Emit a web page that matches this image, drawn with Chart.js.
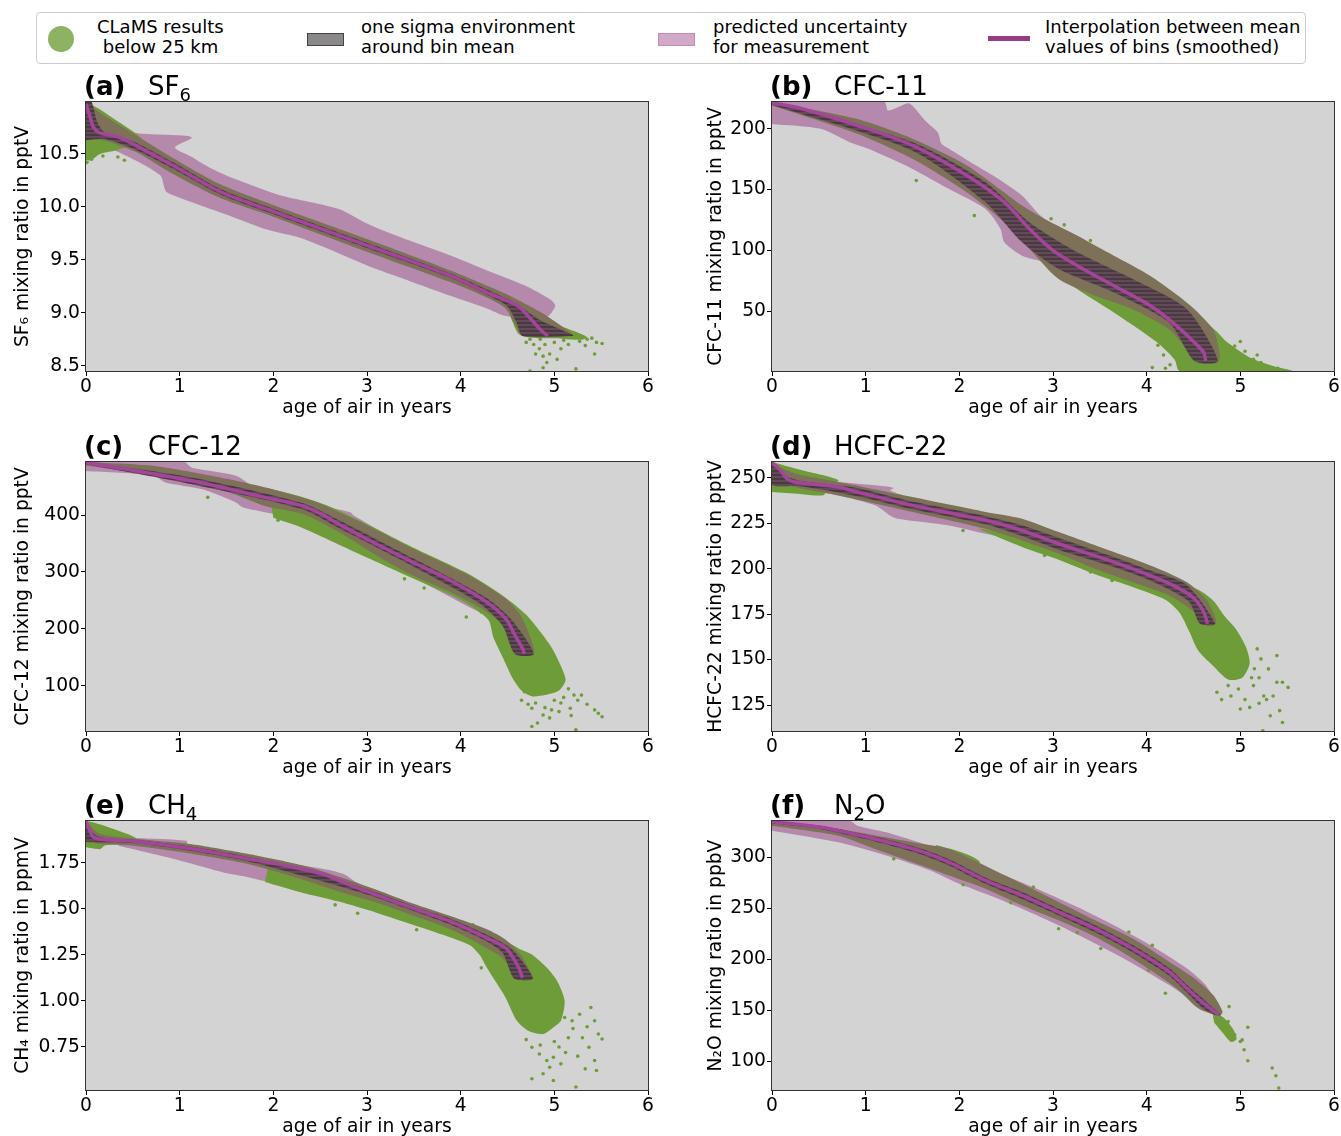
<!DOCTYPE html>
<html>
<head>
<meta charset="utf-8">
<script src="https://cdn.jsdelivr.net/npm/chart.js@4.4.1/dist/chart.umd.min.js"></script>
<style>
  body { margin: 0; background: #fff; font-family: "DejaVu Sans", sans-serif; }
  #fig { position: relative; width: 1341px; height: 1136px; overflow: hidden; }
  .legend { position: absolute; left: 36px; top: 12px; width: 1268px; height: 50px; border: 1px solid #cccccc; border-radius: 4px; background: #fff; }
  .lg-text { position: absolute; font-size: 18px; line-height: 20px; color: #000; white-space: pre; }
  .ptitle { position: absolute; font-size: 26px; color: #000; white-space: nowrap; z-index: 2; }
  .ptitle sub { font-size: 18px; vertical-align: -6px; line-height: 0; }
  canvas { position: absolute; }
</style>
</head>
<body>
<div id="fig">
  <div class="legend">
    <div style="position:absolute;left:11px;top:13px;width:26px;height:26px;border-radius:50%;background:#8db262;"></div>
    <div class="lg-text" style="left:60px;top:4px;">CLaMS results
 below 25 km</div>
    <div style="position:absolute;left:270px;top:20px;width:35px;height:11px;background:#8a8888;border:1px solid #444;"></div>
    <div class="lg-text" style="left:324px;top:4px;">one sigma environment
around bin mean</div>
    <div style="position:absolute;left:621px;top:20px;width:35px;height:11px;background:#d2a9c8;border:1px solid #c58bba;"></div>
    <div class="lg-text" style="left:676px;top:4px;">predicted uncertainty
for measurement</div>
    <div style="position:absolute;left:951px;top:23px;width:42px;height:5px;background:#963c82;"></div>
    <div class="lg-text" style="left:1008px;top:4px;">Interpolation between mean
values of bins (smoothed)</div>
  </div>
</div>
<script>
// ---- axis ticks ----
const ageTicks = [0, 1, 2, 3, 4, 5, 6];
const sf6Ticks = [8.5, 9.0, 9.5, 10.0, 10.5];
const cfc11Ticks = [50, 100, 150, 200];
const cfc12Ticks = [100, 200, 300, 400];
const hcfc22Ticks = [125, 150, 175, 200, 225, 250];
const ch4Ticks = [0.75, 1.00, 1.25, 1.50, 1.75];
const n2oTicks = [100, 150, 200, 250, 300];

// ---- (a) SF6 ----
const sf6Mean = [[0,10.97],[0.04,10.86],[0.08,10.75],[0.14,10.70],[0.34,10.66],[0.53,10.58],[0.93,10.39],[1.44,10.14],[1.99,9.96],[3.02,9.63],[3.89,9.35],[4.28,9.19],[4.60,9.07],[4.72,8.97],[4.84,8.85],[4.93,8.78]];
const sf6SigmaUp = [[0,10.99],[0.18,10.87],[0.49,10.70],[0.93,10.46],[1.44,10.21],[1.99,10.02],[3.02,9.69],[3.89,9.40],[4.48,9.18],[4.70,9.08],[4.92,8.97],[5.19,8.80]];
const sf6SigmaLo = [[0,10.63],[0.18,10.63],[0.53,10.52],[0.93,10.31],[1.44,10.08],[1.99,9.91],[3.02,9.57],[3.89,9.29],[4.24,9.16],[4.48,9.04],[4.60,8.86],[4.66,8.78],[5.19,8.78]];
const sf6CoreUp = [[0,10.99],[0.06,10.99],[0.12,10.80],[0.2,10.70],[0.5,10.62],[0.93,10.42],[1.44,10.165],[1.99,9.985],[3.02,9.655],[3.89,9.37],[4.5,9.13],[4.6,9.08],[4.85,8.93],[5.2,8.79]];
const sf6CoreLo = [[0,10.63],[0.2,10.64],[0.5,10.55],[0.93,10.36],[1.44,10.115],[1.99,9.935],[3.02,9.605],[3.89,9.33],[4.3,9.16],[4.5,9.06],[4.6,8.9],[4.66,8.78],[5.2,8.78]];
const sf6UncUp = [[0,10.8],[0.49,10.70],[1.09,10.67],[1.13,10.65],[0.95,10.56],[1.13,10.47],[1.32,10.37],[1.60,10.26],[2.07,10.11],[2.70,9.98],[2.98,9.85],[3.22,9.76],[3.49,9.67],[3.89,9.54],[4.28,9.40],[4.68,9.26],[4.95,9.13],[5.01,9.07],[4.97,9.00],[4.92,8.96]];
const sf6UncLo = [[0,10.62],[0.34,10.52],[0.79,10.30],[0.85,10.15],[0.93,10.11],[1.52,9.92],[1.91,9.79],[2.31,9.70],[3.02,9.44],[3.30,9.35],[3.89,9.16],[4.28,9.04],[4.48,8.97],[4.85,8.96]];
const sf6CloudA = [[0,10.99],[0.15,10.92],[0.35,10.80],[0.55,10.68],[0.6,10.62],[0.3,10.53],[0.15,10.5],[0.05,10.44],[0,10.44]];
const sf6CloudB = [[4.5,9.04],[4.62,9.02],[4.9,8.93],[5.2,8.83],[5.35,8.77],[5.3,8.745],[5.0,8.76],[4.75,8.765],[4.62,8.8],[4.55,8.92]];
const sf6Dots = [[4.74,8.75],[4.78,8.70],[4.84,8.66],[4.80,8.61],[4.88,8.59],[4.95,8.61],[4.92,8.53],[4.88,8.48],[5.07,8.66],[5.15,8.70],[5.23,8.78],[5.35,8.75],[5.45,8.72],[5.51,8.71],[5.43,8.61],[4.74,8.45],[5.23,8.47],[5.33,8.69],[5.03,8.56],[0.02,10.5],[0.06,10.45],[0.12,10.52],[0.18,10.48],[0.34,10.47],[0.41,10.44],[0.01,10.42],[4.7,8.72],[4.9,8.7],[5.0,8.72],[5.1,8.74],[4.85,8.75],[5.4,8.76],[5.27,8.73],[4.6,8.88],[4.55,8.97]];

// ---- (b) CFC-11 ----
const cfc11Mean = [[0,221.4],[0.32,216.5],[0.91,202.7],[1.50,186.3],[2.08,161.5],[2.48,139.6],[2.75,117.6],[2.98,101.1],[3.26,87.4],[3.65,70.9],[4.04,54.4],[4.32,37.9],[4.51,24.2],[4.61,15.9],[4.63,9.1]];
const cfc11SigmaUp = [[0,222],[0.91,208],[1.5,191.8],[2.08,169.8],[2.67,136.8],[2.91,125.8],[3.26,112],[3.65,95.6],[4.04,79],[4.43,57],[4.71,35],[4.77,18.7],[4.77,9.1]];
const cfc11SigmaLo = [[0,219.2],[0.91,195.9],[1.5,175.3],[2.08,147.8],[2.48,123.1],[2.75,101.1],[3.06,76.4],[3.45,62.6],[3.85,51.6],[4.24,35],[4.43,18.7],[4.51,9.1]];
const cfc11CoreUp = [[0,222],[1.5,189],[2.28,156],[2.75,123],[3.26,98.4],[3.85,76.4],[4.43,51.6],[4.76,9.1]];
const cfc11CoreLo = [[0,219.8],[1.5,182],[2.28,139.6],[2.67,106.6],[3.06,84.6],[3.65,65.4],[4.24,40.6],[4.51,9.1]];
const cfc11UncUp = [[0,222],[1.2,222],[1.24,215],[1.45,221],[1.5,219],[1.65,205.5],[1.77,197],[1.81,187.6],[1.89,183.5],[2.12,172.5],[2.36,161.5],[2.67,145],[2.83,131.3],[2.91,125.8],[3.26,112],[3.85,84.6],[4.04,76.4],[4.32,62.6],[4.55,49],[4.63,38],[4.71,29.7]];
const cfc11UncLo = [[0,204],[0.52,200],[0.83,189],[1.03,183.5],[1.5,167],[1.89,150.5],[2.28,134],[2.44,117.6],[2.48,106.6],[2.67,95.6],[2.91,90],[3.06,81.9],[3.26,71],[3.85,49],[4.24,29.7],[4.51,16],[4.62,20]];
const cfc11Cloud = [[2.75,122],[2.9,124],[3.3,108],[3.7,92],[4.0,80],[4.4,58],[4.75,33],[4.85,25],[5.1,12],[5.35,5],[5.55,0.9],[4.35,0.9],[4.3,10],[4.1,25],[3.65,49],[3.3,66],[3.05,80],[2.85,100]];
const cfc11Dots = [[1.54,157.4],[2.16,128.6],[4.06,3.6],[4.94,21.4],[5.14,10.4],[4.87,16],[5.22,7.7],[3.55,56],[3.8,43],[3.98,34],[4.12,22],[4.18,14],[4.25,6],[5.3,4],[5.05,17],[2.98,126],[3.12,121],[3.4,108],[5.0,25],[5.18,14],[5.4,3],[4.2,3]];

// ---- (c) CFC-12 ----
const cfc12Mean = [[0,492],[0.34,483],[1.13,460],[1.91,431],[2.31,416],[2.51,402],[2.70,384],[3.10,349],[3.49,317],[3.89,285],[4.28,247],[4.48,218],[4.58,189],[4.66,166],[4.68,156]];
const cfc12SigmaUp = [[0,493],[0.73,486],[1.52,463],[1.99,445],[2.47,422],[2.70,405],[2.94,387],[3.49,341],[4.09,294],[4.48,253],[4.64,224],[4.76,178],[4.78,156]];
const cfc12SigmaLo = [[0,487],[0.73,469],[1.52,440],[1.91,416],[2.31,402],[2.70,370],[3.10,329],[3.49,294],[3.89,265],[4.28,230],[4.52,195],[4.58,156]];
const cfc12CoreUp = [[0,493],[1.13,466],[2.31,421],[2.70,391],[3.49,324],[4.28,254],[4.55,215],[4.78,156]];
const cfc12CoreLo = [[0,489],[1.13,454],[2.31,410],[2.70,377],[3.49,310],[4.2,245],[4.45,205],[4.58,156]];
const cfc12UncUp = [[0,493],[1.05,493],[1.13,483],[1.60,469],[1.83,445],[2.11,428],[2.51,416],[2.82,405],[2.86,399],[3.10,376],[3.49,341],[3.89,306],[4.28,265],[4.48,242]];
const cfc12UncLo = [[0,477],[0.73,469],[0.85,457],[1.24,445],[1.60,422],[1.68,413],[1.91,405],[2.31,393],[2.70,358],[3.10,323],[3.49,291],[3.89,256],[4.28,224],[4.45,225]];
const cfc12Cloud = [[1.95,447],[2.3,432],[2.6,415],[2.9,392],[3.49,343],[4.09,296],[4.48,255],[4.7,225],[4.85,195],[4.98,165],[5.07,135],[5.12,110],[5.05,92],[4.9,84],[4.76,82],[4.65,92],[4.55,115],[4.45,150],[4.35,185],[4.3,215],[4.15,236],[3.9,259],[3.5,288],[3.1,318],[2.7,348],[2.3,378],[2.0,395]];
const cfc12Dots = [[4.76,61],[4.88,49],[4.95,44],[5.21,84],[5.29,84],[5.17,61],[5.43,58],[5.47,52],[5.51,46],[4.76,29],[5.23,23],[5.07,70],[4.97,58],[4.06,221],[4.22,230],[1.30,431],[2.05,391],[3.40,288],[3.61,272],[5.15,95],[5.0,75],[4.8,70],[4.65,75],[4.72,68],[4.9,62],[5.1,80],[5.25,75],[5.35,68],[5.05,55],[4.82,35],[5.18,48],[4.68,90]];

// ---- (d) HCFC-22 ----
const hcfc22Mean = [[0,258.5],[0.09,254.2],[0.16,249.6],[0.24,247.8],[0.71,245],[0.91,242.3],[1.50,234.9],[2.28,226.7],[2.67,221.1],[3.06,213.8],[3.65,203.7],[4.04,196.3],[4.32,189.9],[4.51,183.5],[4.61,176.1],[4.65,169.7]];
const hcfc22SigmaUp = [[0,259],[0.12,255],[0.32,251.5],[0.71,247.8],[1.50,239.5],[2.28,231.3],[2.67,227.6],[3.06,220.2],[3.65,209.2],[4.04,201.8],[4.43,192.6],[4.63,183.5],[4.71,176.1],[4.74,169.7]];
const hcfc22SigmaLo = [[0,247.8],[0.32,244.1],[0.71,240.4],[1.50,231.3],[2.28,222],[2.67,215.6],[3.06,208.3],[3.45,200],[3.85,192.6],[4.24,185.3],[4.51,176.1],[4.57,169.7]];
const hcfc22CoreUp = [[0,259],[0.16,251],[0.3,248.5],[0.91,244.5],[1.5,237],[2.28,229],[2.67,224],[3.06,217],[3.65,206.5],[4.04,199],[4.43,191],[4.73,169.7]];
const hcfc22CoreLo = [[0,246],[0.05,245.5],[0.3,245.5],[0.91,240],[1.5,232.8],[2.28,224.5],[2.67,218],[3.06,210.5],[3.65,201],[4.04,193.5],[4.45,182],[4.57,169.7]];
const hcfc22UncUp = [[0,250],[0.60,248.2],[1.18,245.6],[1.30,244.5],[1.26,243.2],[1.50,238.6],[1.89,234.9],[2.28,230.3],[2.67,226.7],[2.95,222],[3.02,218.4],[3.06,216.5],[3.45,209.2],[3.85,201.8],[4.24,194.5],[4.43,189],[4.63,183.5]];
const hcfc22UncLo = [[0,246],[0.32,244],[0.71,240.4],[1.10,235],[1.26,229.4],[1.34,227.6],[1.89,223.9],[2.28,219.3],[2.67,214.7],[3.06,207.4],[3.45,199.1],[3.85,192.6],[4.24,185.3],[4.55,178]];
const hcfc22CloudA = [[0,258.8],[0.3,254.5],[0.71,248.8],[0.6,245],[0.55,240.5],[0.3,241.2],[0,242.3]];
const hcfc22CloudB = [[2.2,222],[2.67,212],[3.06,205],[3.45,197],[3.85,190],[4.2,183],[4.35,176],[4.45,166],[4.55,155],[4.7,147],[4.87,139],[5.02,140],[5.1,148],[5.06,157],[4.95,167],[4.83,174],[4.72,182],[4.6,187],[4.4,192],[4.0,199],[3.5,208],[3.0,215],[2.5,221]];
const hcfc22Dots = [[4.98,133.8],[5.14,135.7],[5.30,144.9],[5.39,152.2],[5.45,137.5],[5.51,134.7],[5.39,137.5],[4.75,132],[4.87,135.7],[5.0,122.8],[5.1,123.7],[5.32,119.1],[5.42,121.9],[5.45,115.4],[5.24,110.8],[5.22,150.4],[5.18,155.9],[3.63,193.6],[3.40,198.2],[2.91,207.4],[2.04,221.1],[4.12,199.1],[5.2,140],[5.25,130],[4.8,128],[5.15,145],[5.28,128],[5.35,130],[4.9,130],[5.05,128],[5.12,140],[5.2,126]];

// ---- (e) CH4 ----
const ch4Mean = [[0,1.975],[0.04,1.926],[0.08,1.89],[0.18,1.878],[0.53,1.867],[1.13,1.827],[1.72,1.773],[2.11,1.737],[2.51,1.692],[2.78,1.638],[3.10,1.576],[3.49,1.504],[3.89,1.432],[4.28,1.342],[4.48,1.288],[4.56,1.234],[4.62,1.18],[4.66,1.126]];
const ch4SigmaUp = [[0,1.98],[0.14,1.91],[0.53,1.882],[1.13,1.852],[1.72,1.80],[2.31,1.737],[2.70,1.675],[3.10,1.605],[3.49,1.53],[3.89,1.462],[4.28,1.39],[4.48,1.333],[4.64,1.252],[4.72,1.18],[4.77,1.122]];
const ch4SigmaLo = [[0,1.863],[0.14,1.854],[0.53,1.842],[1.13,1.80],[1.72,1.745],[2.31,1.66],[2.70,1.595],[3.10,1.535],[3.49,1.465],[3.89,1.39],[4.40,1.252],[4.52,1.189],[4.57,1.122]];
const ch4CoreUp = [[0,1.98],[0.08,1.91],[0.2,1.885],[0.53,1.875],[1.13,1.838],[1.72,1.784],[2.31,1.72],[2.70,1.658],[3.10,1.589],[3.49,1.515],[3.89,1.447],[4.28,1.36],[4.55,1.28],[4.77,1.122]];
const ch4CoreLo = [[0,1.865],[0.15,1.862],[0.53,1.857],[1.13,1.815],[1.72,1.76],[2.31,1.68],[2.70,1.625],[3.10,1.562],[3.49,1.49],[3.89,1.415],[4.28,1.323],[4.45,1.26],[4.57,1.122]];
const ch4UncUp = [[0.53,1.885],[1.07,1.87],[1.09,1.845],[1.58,1.79],[1.91,1.765],[2.51,1.72],[2.75,1.69],[2.9,1.64],[3.10,1.60],[3.49,1.52],[3.89,1.45],[4.28,1.36]];
const ch4UncLo = [[0.34,1.845],[0.93,1.773],[1.52,1.692],[1.72,1.674],[2.03,1.638],[2.31,1.62],[2.70,1.567],[3.10,1.513],[3.49,1.45],[3.89,1.38],[4.28,1.30]];
const ch4CloudA = [[0,1.98],[0.18,1.955],[0.53,1.887],[0.5,1.86],[0.2,1.845],[0.15,1.825],[0,1.835]];
const ch4CloudB = [[1.95,1.74],[2.3,1.71],[2.8,1.64],[3.3,1.55],[3.8,1.46],[4.2,1.39],[4.5,1.32],[4.64,1.279],[4.76,1.252],[4.92,1.18],[5.03,1.108],[5.11,1.0],[5.07,0.892],[5.0,0.86],[4.88,0.82],[4.72,0.838],[4.6,0.892],[4.48,1.018],[4.38,1.1],[4.28,1.18],[4.2,1.252],[4.09,1.306],[3.49,1.414],[3.1,1.48],[2.70,1.54],[2.3,1.59],[1.91,1.647]];
const ch4Dots = [[4.76,0.748],[4.84,0.712],[4.92,0.676],[4.99,0.694],[5.07,0.658],[5.19,0.892],[5.27,0.928],[5.39,0.964],[5.43,0.892],[5.47,0.82],[5.51,0.793],[5.37,0.748],[5.43,0.676],[5.33,0.631],[5.45,0.622],[4.88,0.604],[4.76,0.577],[4.99,0.568],[5.23,0.532],[5.11,0.91],[2.66,1.522],[2.90,1.477],[3.53,1.387],[4.13,1.414],[4.22,1.18],[5.15,0.8],[5.05,0.75],[4.7,0.79],[5.2,0.85],[5.3,0.8],[5.0,0.78],[4.85,0.76],[5.12,0.72],[5.25,0.7],[4.95,0.64],[5.35,0.86]];

// ---- (f) N2O ----
const n2oMean = [[0,334.8],[0.52,329.3],[1.10,317.9],[1.57,306.5],[1.89,295.1],[2.28,277.2],[2.67,262.6],[3.06,246.3],[3.45,230.1],[3.85,210.6],[4.24,187.8],[4.43,171.5],[4.63,155.3],[4.77,145.5]];
const n2oSigmaUp = [[0,335.8],[0.71,327.6],[1.50,314.6],[1.89,308.1],[2.12,298.4],[2.67,274],[3.06,256.1],[3.45,238.2],[3.85,220.3],[4.24,197.6],[4.51,181.3],[4.71,165],[4.81,148.8],[4.79,145.5]];
const n2oSigmaLo = [[0,330.9],[0.71,321.1],[1.10,308.1],[1.50,295.1],[1.89,282.1],[2.28,269.1],[2.67,252.8],[3.06,238.2],[3.45,222],[3.85,200.8],[4.32,171.5],[4.55,152],[4.73,145.5]];
const n2oCoreUp = [[0,335.5],[0.52,330.8],[1.1,320],[1.57,309],[1.89,298],[2.28,280],[2.67,266],[3.06,249.5],[3.45,233.5],[3.85,214],[4.24,191.5],[4.43,175],[4.63,159],[4.79,145.5]];
const n2oCoreLo = [[0,333],[0.52,327.5],[1.10,315.5],[1.57,303.5],[1.89,292],[2.28,274],[2.67,259],[3.06,243],[3.45,226.5],[3.85,207],[4.24,184],[4.43,167.5],[4.6,152],[4.73,145.5]];
const n2oUncUp = [[0,335.8],[0.83,335.8],[0.91,330.9],[1.22,324.4],[1.57,314.6],[1.96,303.3],[2.20,291.9],[2.48,282.1],[2.87,267.5],[3.26,251.2],[3.65,233.3],[4.04,213.8],[4.43,191.1],[4.63,174.8],[4.75,155.3],[4.79,145.5]];
const n2oUncLo = [[0,326],[0.71,314.6],[1.22,301.6],[1.69,287],[1.96,275.6],[2.28,264.2],[2.67,249.6],[3.06,233.3],[3.45,215.4],[3.85,196],[4.24,174.8],[4.51,158.5],[4.73,145.5]];
const n2oCloudA = [[1.75,312],[1.95,307],[2.15,300],[2.22,295],[2.1,290],[1.9,296],[1.75,303]];
const n2oCloudB = [[4.7,149],[4.82,143],[4.92,132],[4.96,122],[4.9,119],[4.82,127],[4.72,138]];
const n2oDots = [[1.30,298.4],[2.04,273],[2.55,255.4],[2.79,270.7],[3.06,230],[3.26,226.2],[3.51,210.6],[4.06,213.8],[3.81,226.8],[4.02,189.4],[4.20,166.7],[4.88,153.7],[5.08,133.5],[5.02,121.1],[5.0,119.5],[5.04,111.4],[5.08,100.7],[5.34,93.5],[5.38,86],[5.41,74],[4.90,127.6],[4.94,126],[4.83,132.5],[4.87,139],[4.79,142.3],[4.75,143.9]];

const colBg = '#d3d3d3';
const colGreen = '#6e9c38';
const colUnc = 'rgba(149, 63, 133, 0.5)';
const colSigma = '#7d7158';
const colMean = '#a4449a';
const fontFam = '"DejaVu Sans", sans-serif';
const fontSize = 18.7;

// horizontal stripes of the stacked bins inside the sigma band
function stripePattern(ctx) {
  const c = document.createElement('canvas');
  c.width = 4;
  c.height = 4;
  const x = c.getContext('2d');
  x.fillStyle = '#614c56';
  x.fillRect(0, 0, 4, 4);
  x.fillStyle = '#4a3942';
  x.fillRect(0, 0, 4, 2);
  return ctx.createPattern(c, 'repeat');
}

const panels = [
  { key: '(a)', name: 'SF<sub>6</sub>', ylabel: 'SF\u2086 mixing ratio in pptV', col: 0, row: 0, ymin: 8.45, ymax: 10.99, ticks: sf6Ticks, dec: 1,
    mean: sf6Mean, sUp: sf6SigmaUp, sLo: sf6SigmaLo, cUp: sf6CoreUp, cLo: sf6CoreLo, uUp: sf6UncUp, uLo: sf6UncLo, clouds: [sf6CloudA, sf6CloudB], dots: sf6Dots },
  { key: '(b)', name: 'CFC-11', ylabel: 'CFC-11 mixing ratio in pptV', col: 1, row: 0, ymin: 0.8, ymax: 222, ticks: cfc11Ticks, dec: 0,
    mean: cfc11Mean, sUp: cfc11SigmaUp, sLo: cfc11SigmaLo, cUp: cfc11CoreUp, cLo: cfc11CoreLo, uUp: cfc11UncUp, uLo: cfc11UncLo, clouds: [cfc11Cloud], dots: cfc11Dots },
  { key: '(c)', name: 'CFC-12', ylabel: 'CFC-12 mixing ratio in pptV', col: 0, row: 1, ymin: 21, ymax: 493, ticks: cfc12Ticks, dec: 0,
    mean: cfc12Mean, sUp: cfc12SigmaUp, sLo: cfc12SigmaLo, cUp: cfc12CoreUp, cLo: cfc12CoreLo, uUp: cfc12UncUp, uLo: cfc12UncLo, clouds: [cfc12Cloud], dots: cfc12Dots },
  { key: '(d)', name: 'HCFC-22', ylabel: 'HCFC-22 mixing ratio in pptV', col: 1, row: 1, ymin: 110.7, ymax: 258.8, ticks: hcfc22Ticks, dec: 0,
    mean: hcfc22Mean, sUp: hcfc22SigmaUp, sLo: hcfc22SigmaLo, cUp: hcfc22CoreUp, cLo: hcfc22CoreLo, uUp: hcfc22UncUp, uLo: hcfc22UncLo, clouds: [hcfc22CloudA, hcfc22CloudB], dots: hcfc22Dots },
  { key: '(e)', name: 'CH<sub>4</sub>', ylabel: 'CH\u2084 mixing ratio in ppmV', col: 0, row: 2, ymin: 0.516, ymax: 1.978, ticks: ch4Ticks, dec: 2,
    mean: ch4Mean, sUp: ch4SigmaUp, sLo: ch4SigmaLo, cUp: ch4CoreUp, cLo: ch4CoreLo, uUp: ch4UncUp, uLo: ch4UncLo, clouds: [ch4CloudA, ch4CloudB], dots: ch4Dots },
  { key: '(f)', name: 'N<sub>2</sub>O', ylabel: 'N\u2082O mixing ratio in ppbV', col: 1, row: 2, ymin: 72, ymax: 335.5, ticks: n2oTicks, dec: 0,
    mean: n2oMean, sUp: n2oSigmaUp, sLo: n2oSigmaLo, cUp: n2oCoreUp, cLo: n2oCoreLo, uUp: n2oUncUp, uLo: n2oUncLo, clouds: [n2oCloudA, n2oCloudB], dots: n2oDots }
];

// plot-area geometry of the two columns and three rows
const colGeom = [
  { canvasLeft: 0, width: 670, axisW: 86, titlePad: 12, titleLeft: 84 },
  { canvasLeft: 690, width: 651, axisW: 82, titlePad: 15, titleLeft: 770 }
];
const rowTop = [102, 462, 821];
const plotH = 269;

const toXY = arr => arr.map(([x, y]) => ({ x, y }));
const ring = (up, lo) => toXY(up.concat(lo.slice().reverse()));

// grey plot background and the box around it
const framePlugin = {
  id: 'frame',
  beforeDraw(chart) {
    const { ctx, chartArea: a } = chart;
    ctx.save();
    ctx.fillStyle = colBg;
    ctx.fillRect(a.left, a.top, a.right - a.left, a.bottom - a.top);
    ctx.restore();
  },
  afterDraw(chart) {
    const { ctx, chartArea: a } = chart;
    ctx.save();
    ctx.strokeStyle = '#333';
    ctx.lineWidth = 1;
    ctx.strokeRect(a.left - 0.5, a.top - 0.5, a.right - a.left + 1, a.bottom - a.top + 1);
    ctx.restore();
  }
};

const fig = document.getElementById('fig');

panels.forEach(p => {
  const g = colGeom[p.col];
  const top = rowTop[p.row] - 20;
  const height = plotH + 20 + 60;

  const canvas = document.createElement('canvas');
  canvas.width = g.width;
  canvas.height = height;
  canvas.style.left = g.canvasLeft + 'px';
  canvas.style.top = top + 'px';
  fig.appendChild(canvas);
  const ctx = canvas.getContext('2d');

  const t = document.createElement('div');
  t.className = 'ptitle';
  t.style.left = g.titleLeft + 'px';
  t.style.top = (rowTop[p.row] - 31) + 'px';
  t.innerHTML = '<b>' + p.key + '</b><span style="position:absolute;left:64px;top:0;">' + p.name + '</span>';
  fig.appendChild(t);

  const shape = (data, color, order) => ({
    data, fill: 'shape', backgroundColor: color, borderColor: 'transparent',
    borderWidth: 0, pointRadius: 0, tension: 0.25, order
  });

  const datasets = [
    { data: toXY(p.mean), borderColor: colMean, borderWidth: 3.5, pointRadius: 0, tension: 0.3, fill: false, order: 1 },
    shape(ring(p.cUp, p.cLo), stripePattern(ctx), 2),
    shape(ring(p.sUp, p.sLo), colSigma, 3),
    { data: toXY(p.dots), showLine: false, pointRadius: 1.8, pointBorderWidth: 0, pointBackgroundColor: colGreen, order: 4 },
    ...p.clouds.map(c => shape(toXY(c), colGreen, 5)),
    shape(ring(p.uUp, p.uLo), colUnc, 6)
  ];

  new Chart(ctx, {
    type: 'line',
    data: { datasets },
    plugins: [framePlugin],
    options: {
      responsive: false,
      animation: false,
      events: [],
      layout: { padding: { left: 0, top: 20, right: g.width - g.axisW - 562, bottom: 0 } },
      plugins: { legend: { display: false }, tooltip: { enabled: false } },
      scales: {
        x: {
          type: 'linear', min: 0, max: 6,
          afterBuildTicks: s => { s.ticks = ageTicks.map(v => ({ value: v })); },
          afterFit: s => { s.height = 60; },
          grid: { drawOnChartArea: false, tickLength: 5, tickColor: '#000' },
          border: { display: false },
          ticks: { color: '#000', font: { family: fontFam, size: fontSize }, padding: 0, maxRotation: 0, autoSkip: false },
          title: { display: true, text: 'age of air in years', color: '#000', font: { family: fontFam, size: fontSize }, padding: { top: 0, bottom: 12 } }
        },
        y: {
          type: 'linear', min: p.ymin, max: p.ymax,
          afterBuildTicks: s => { s.ticks = p.ticks.map(v => ({ value: v })); },
          afterFit: s => { s.width = g.axisW; },
          grid: { drawOnChartArea: false, tickLength: 5, tickColor: '#000' },
          border: { display: false },
          ticks: { color: '#000', font: { family: fontFam, size: fontSize }, padding: 1, callback: v => v.toFixed(p.dec) },
          title: { display: true, text: p.ylabel, color: '#000', font: { family: fontFam, size: fontSize }, padding: { top: g.titlePad, bottom: 0 } }
        }
      }
    }
  });
});
</script>
</body>
</html>
